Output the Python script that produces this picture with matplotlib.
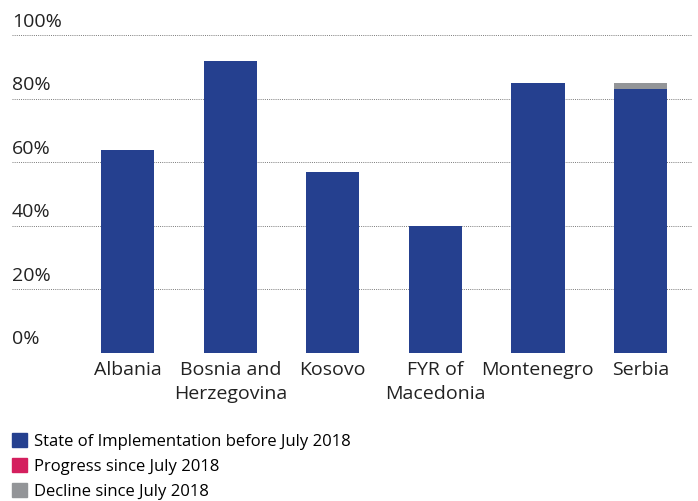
import numpy as np
import matplotlib.pyplot as plt
from matplotlib.patches import Patch

plt.rcParams['font.family'] = ['Open Sans', 'DejaVu Sans']

countries = ['Albania', 'Bosnia and\nHerzegovina', 'Kosovo', 'FYR of\nMacedonia',
             'Montenegro', 'Serbia']
state_before = [64, 92, 57, 40, 85, 83]
progress = [0, 0, 0, 0, 0, 0]
decline = [0, 0, 0, 0, 0, 2]
yticks = [0, 20, 40, 60, 80, 100]

blue = '#25408f'
pink = '#d41f5e'
grey = '#939598'

fig = plt.figure(figsize=(6.98, 5.02), dpi=100)
ax = fig.add_axes([0.017, 0.295, 0.974, 0.633])

ind = np.arange(len(countries))
width = 0.52
base = np.array(state_before)
ax.bar(ind, base, width, color=blue, zorder=2)
ax.bar(ind, progress, width, bottom=base, color=pink, zorder=2)
ax.bar(ind, decline, width, bottom=base + np.array(progress), color=grey, zorder=2)

ax.set_xlim(-1.13, 5.5)
ax.set_ylim(0, 100)
for v in yticks:
    ax.axhline(v, color='#7a7a7a', lw=0.7, ls=(0, (1, 1.2)), zorder=1)
    ax.annotate('%d%%' % v, xy=(0, v), xycoords=('axes fraction', 'data'),
                xytext=(0, 4), textcoords='offset points', ha='left', va='bottom',
                fontsize=14, color='#222222', annotation_clip=False)

ax.set_yticks([])
ax.set_xticks(ind)
ax.set_xticklabels(countries, fontsize=14, color='#222222', linespacing=1.45)
ax.tick_params(axis='x', length=0, pad=5)
for s in ax.spines.values():
    s.set_visible(False)

handles = [Patch(color=blue, label='State of Implementation before July 2018'),
           Patch(color=pink, label='Progress since July 2018'),
           Patch(color=grey, label='Decline since July 2018')]
fig.legend(handles=handles, loc='upper left', bbox_to_anchor=(0.017, 0.136),
           frameon=False, fontsize=12, handlelength=0.9, handleheight=0.9,
           handletextpad=0.4, labelspacing=0.5, borderaxespad=0, borderpad=0)

fig.savefig('out.png', dpi=100)
